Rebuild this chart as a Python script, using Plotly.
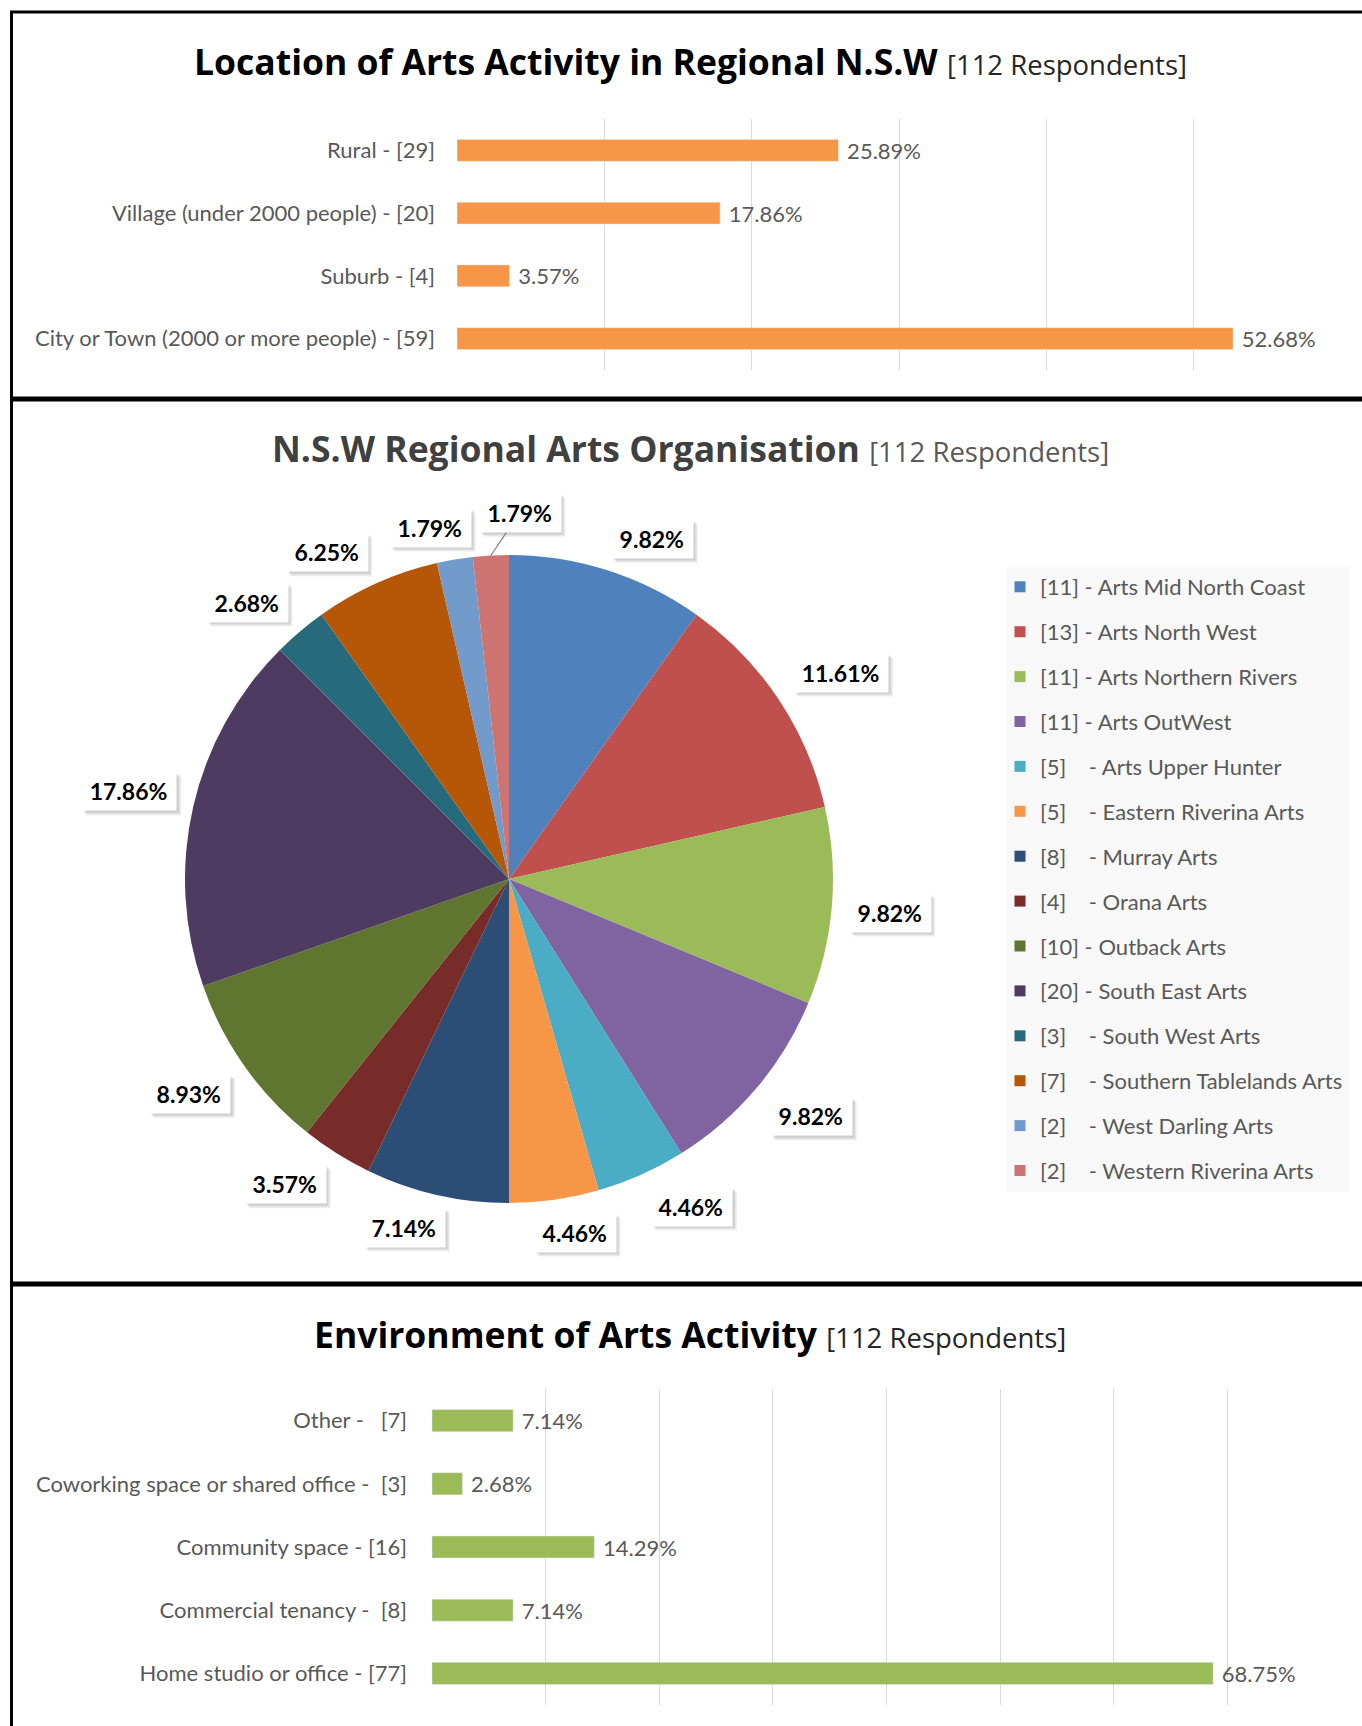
import math
import plotly.graph_objects as go

W, H = 1362, 1726
FONT = "Lato"
TFONT = "Open Sans"
GRAY = "#595959"

# ---------------- data ----------------
total_respondents = 112

loc_labels = ["Rural - [29]", "Village (under 2000 people) - [20]", "Suburb - [4]",
              "City or Town (2000 or more people) - [59]"]
loc_counts = [29, 20, 4, 59]

org_names = ["Arts Mid North Coast", "Arts North West", "Arts Northern Rivers", "Arts OutWest",
             "Arts Upper Hunter", "Eastern Riverina Arts", "Murray Arts", "Orana Arts",
             "Outback Arts", "South East Arts", "South West Arts", "Southern Tablelands Arts",
             "West Darling Arts", "Western Riverina Arts"]
org_counts = [11, 13, 11, 11, 5, 5, 8, 4, 10, 20, 3, 7, 2, 2]
org_colors = ["#4F81BD", "#C0504D", "#9BBB59", "#8064A2", "#4BACC6", "#F79646",
              "#2C4D75", "#772C2A", "#5F7530", "#4D3B62", "#276A7C", "#B65708",
              "#729ACA", "#CD7371"]

env_labels = ["Other -\u00a0\u00a0\u00a0[7]", "Coworking space or shared office -\u00a0\u00a0[3]",
              "Community space - [16]", "Commercial tenancy -\u00a0\u00a0[8]",
              "Home studio or office - [77]"]
env_counts = [8, 3, 16, 8, 77]

loc_pct = [c / total_respondents * 100 for c in loc_counts]
env_pct = [c / total_respondents * 100 for c in env_counts]


def px_x(p):
    return p / W


def px_y(p):
    return 1 - p / H


fig = go.Figure()

# ---------------- top bar chart ----------------
fig.add_trace(go.Bar(
    y=loc_labels, x=loc_pct, orientation="h", marker_color="#F79646",
    text=["\u00a0%.2f%%" % v for v in loc_pct], textposition="outside", constraintext="none",
    textfont=dict(family=FONT, size=22, color=GRAY), cliponaxis=False,
    xaxis="x", yaxis="y", showlegend=False, hoverinfo="skip"))

# ---------------- bottom bar chart ----------------
fig.add_trace(go.Bar(
    y=env_labels, x=env_pct, orientation="h", marker_color="#9BBB59",
    text=["\u00a0%.2f%%" % v for v in env_pct], textposition="outside", constraintext="none",
    textfont=dict(family=FONT, size=22, color=GRAY), cliponaxis=False,
    xaxis="x2", yaxis="y2", showlegend=False, hoverinfo="skip"))

# ---------------- pie ----------------
PCX, PCY, PR = 509, 879, 324
fig.add_trace(go.Pie(
    values=org_counts, labels=org_names, sort=False, direction="clockwise", rotation=0,
    marker=dict(colors=org_colors, line=dict(width=0)), textinfo="none", hoverinfo="skip",
    showlegend=False,
    domain=dict(x=[px_x(PCX - PR), px_x(PCX + PR)], y=[px_y(PCY + PR), px_y(PCY - PR)])))

# legend entries (one group each to space them like the original)
for i, (n, c, col) in enumerate(zip(org_names, org_counts, org_colors)):
    br = "[%d]" % c
    if c < 10:
        br = br + "\u00a0\u00a0\u00a0\u00a0-"
    else:
        br = br + " -"
    fig.add_trace(go.Scatter(
        x=[None], y=[None], mode="markers", name="%s %s" % (br, n),
        marker=dict(symbol="square", size=11, color=col), legendgroup="g%d" % i,
        xaxis="x", yaxis="y", hoverinfo="skip"))

# ---------------- pie labels (boxes with shadows) ----------------
tot = sum(org_counts)
labels = []
cum = 0
for c in org_counts:
    mid = (cum + c / 2) / tot * 360
    cum += c
    txt = "%.2f%%" % (c / tot * 100)
    labels.append(dict(mid=mid, ang=mid, txt=txt, w=13.5 * len(txt) + 14, h=39, extra=0))

RLAB = PR + 13


def clamp(v):
    return max(-1.0, min(1.0, v))


def place(lb):
    t = math.radians(lb["ang"])
    s, co = math.sin(t), math.cos(t)
    rr = RLAB + lb["extra"]
    lb["px"] = PCX + rr * s + clamp(3 * s) * (lb["w"] / 2 + 4)
    lb["py"] = PCY - rr * co - clamp(3 * co) * (lb["h"] / 2)


def overlap(a, b):
    return abs(a["px"] - b["px"]) < (a["w"] + b["w"]) / 2 + 8 and \
        abs(a["py"] - b["py"]) < (a["h"] + b["h"]) / 2 + 4


for i, lb in enumerate(labels):
    place(lb)
    if i > 0 and overlap(labels[i - 1], lb):
        lb["extra"] = 10  # pushed labels sit a little further out, with a leader line
        steps = 0
        while overlap(labels[i - 1], lb) and steps < 400:
            lb["ang"] += 0.1
            place(lb)
            steps += 1

annotations = []
shapes = []
for lb in labels:
    # soft drop shadow made of a few translucent layers
    for off in (2, 3, 4, 5):
        shapes.append(dict(
            type="rect", xref="paper", yref="paper", layer="above",
            x0=px_x(lb["px"] - lb["w"] / 2 + off), x1=px_x(lb["px"] + lb["w"] / 2 + off),
            y0=px_y(lb["py"] + lb["h"] / 2 + off), y1=px_y(lb["py"] - lb["h"] / 2 + off),
            fillcolor="rgba(0,0,0,0.05)", line=dict(width=0)))
    leader = abs(lb["ang"] - lb["mid"]) > 2
    common = dict(
        text="<b>%s</b>" % lb["txt"], xref="paper", yref="paper",
        font=dict(family=FONT, size=23, color="#000000"),
        bgcolor="#FFFFFF", width=lb["w"], height=lb["h"], borderpad=0,
        align="center", valign="middle")
    if leader:
        t = math.radians(lb["mid"])
        ex, ey = PCX + PR * math.sin(t), PCY - PR * math.cos(t)
        common.update(x=px_x(ex), y=px_y(ey), showarrow=True, ax=lb["px"] - ex,
                      ay=lb["py"] - ey, arrowhead=0, arrowwidth=1.2, standoff=0,
                      arrowcolor="#7F7F7F")
    else:
        common.update(x=px_x(lb["px"]), y=px_y(lb["py"]), showarrow=False,
                      xanchor="center", yanchor="middle")
    annotations.append(common)

# ---------------- titles ----------------
titles = [
    (61, "Location of Arts Activity in Regional N.S.W", "#000000", "#262626"),
    (448, "N.S.W Regional Arts Organisation", "#404040", "#595959"),
    (1334, "Environment of Arts Activity", "#000000", "#262626"),
]
for y, t, c1, c2 in titles:
    annotations.append(dict(
        x=px_x(690), y=px_y(y), xref="paper", yref="paper", showarrow=False,
        xanchor="center", yanchor="middle",
        text="<b>%s</b> <span style='font-size:27.5px;color:%s;font-weight:normal'>[112 Respondents]</span>" % (t, c2),
        font=dict(family=TFONT, size=35.5, color=c1)))

# ---------------- frame lines ----------------
shapes += [
    dict(type="line", xref="paper", yref="paper", x0=px_x(11.5), x1=px_x(11.5), y0=px_y(11), y1=0,
         line=dict(color="#000000", width=3)),
    dict(type="line", xref="paper", yref="paper", x0=px_x(10), x1=1, y0=px_y(12), y1=px_y(12),
         line=dict(color="#000000", width=3)),
    dict(type="line", xref="paper", yref="paper", x0=px_x(10), x1=1, y0=px_y(399), y1=px_y(399),
         line=dict(color="#000000", width=5)),
    dict(type="line", xref="paper", yref="paper", x0=px_x(10), x1=1, y0=px_y(1284), y1=px_y(1284),
         line=dict(color="#000000", width=5)),
    dict(type="rect", xref="paper", yref="paper", x0=px_x(1007), x1=px_x(1350), y0=px_y(1192),
         y1=px_y(567), fillcolor="#F8F8F8", line=dict(width=0), layer="below"),
]

axis_common = dict(showgrid=True, gridcolor="#D9D9D9", gridwidth=1, zeroline=False,
                   showticklabels=False, showline=False, fixedrange=True)
yaxis_common = dict(autorange="reversed", showgrid=False, zeroline=False, showline=False,
                    tickfont=dict(family=FONT, size=22, color=GRAY), fixedrange=True)

fig.update_layout(
    width=W, height=H, margin=dict(l=0, r=0, t=0, b=0),
    paper_bgcolor="#FFFFFF", plot_bgcolor="rgba(0,0,0,0)",
    bargap=0.65,
    xaxis=dict(domain=[px_x(457), px_x(1341)], range=[0, 60], dtick=10, anchor="y", **axis_common),
    yaxis=dict(domain=[px_y(370), px_y(119)], anchor="x", ticklabelstandoff=21, **yaxis_common),
    xaxis2=dict(domain=[px_x(432), px_x(1341)], range=[0, 80], dtick=10, anchor="y2", **axis_common),
    yaxis2=dict(domain=[px_y(1705), px_y(1389)], anchor="x2", ticklabelstandoff=24, **yaxis_common),
    legend=dict(x=px_x(1000), y=px_y(566), xanchor="left", yanchor="top",
                bgcolor="rgba(0,0,0,0)", traceorder="grouped", tracegroupgap=13.3,
                font=dict(family=FONT, size=22, color=GRAY), itemclick=False,
                itemdoubleclick=False),
    showlegend=True,
    annotations=annotations, shapes=shapes,
)

fig.write_html("out.html", config={"displayModeBar": False},
               post_script="document.body.style.margin='0';")
